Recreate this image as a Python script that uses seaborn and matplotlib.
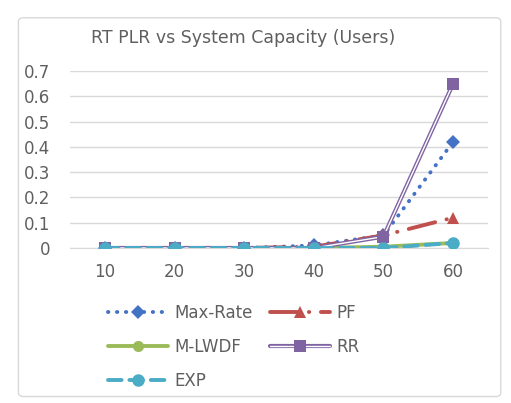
import numpy as np
import pandas as pd
import seaborn as sns
from matplotlib import pyplot as plt
from matplotlib.lines import Line2D
from matplotlib.patches import FancyBboxPatch
import matplotlib.patheffects as pe

users = [10, 20, 30, 40, 50, 60]
max_rate = [0, 0, 0, 0.01, 0.05, 0.42]
pf = [0, 0, 0, 0.005, 0.05, 0.12]
m_lwdf = [0, 0, 0, 0, 0.005, 0.02]
rr = [0, 0, 0, 0, 0.045, 0.65]
exp_ = [0, 0, 0, 0, 0, 0.02]

series = {"Max-Rate": max_rate, "PF": pf, "M-LWDF": m_lwdf, "RR": rr, "EXP": exp_}
df = pd.DataFrame({"pos": range(len(users)), **series})

colors = {"Max-Rate": "#4472C4", "PF": "#C0504D", "M-LWDF": "#9BBB59",
          "RR": "#8064A2", "EXP": "#4BACC6"}
styles = {"Max-Rate": dict(ls=(0, (0.1, 2.2)), marker="D", ms=7),
          "PF": dict(ls=(0, (7, 3, 0.1, 3)), marker="^", ms=9),
          "M-LWDF": dict(ls="-", marker="o", ms=8),
          "RR": dict(ls="-", marker="s", ms=9),
          "EXP": dict(ls=(0, (3.5, 2)), marker="o", ms=9)}

sns.set_style("white")
plt.rcParams["font.family"] = ["DejaVu Sans"]
txt = "#5f5f5f"

fig = plt.figure(figsize=(5.11, 4.03), dpi=100)
fig.patches.append(FancyBboxPatch((0.036, 0.016), 0.944, 0.94, boxstyle="round,pad=0,rounding_size=0.01",
                                  transform=fig.transFigure, fc="white", ec="#d9d9d9", lw=1, zorder=-5))
ax = fig.add_axes([70 / 511, 1 - 248 / 403, (488 - 70) / 511, (248 - 71) / 403])
ax.patch.set_alpha(0)

rr_fx = [pe.Stroke(linewidth=3.0, foreground=colors["RR"]), pe.Stroke(linewidth=1.0, foreground="white")]
for i, name in enumerate(series):
    st = styles[name]
    if name == "RR":
        sns.lineplot(df, x="pos", y=name, ax=ax, color=colors[name], lw=3.0,
                     path_effects=rr_fx, zorder=3 + i * 0.1)
        sns.lineplot(df, x="pos", y=name, ax=ax, color=colors[name], lw=0,
                     marker=st["marker"], markersize=st["ms"], markeredgewidth=0, zorder=3 + i * 0.1)
    else:
        sns.lineplot(df, x="pos", y=name, ax=ax, color=colors[name], lw=2.8,
                     linestyle=st["ls"], marker=st["marker"], markersize=st["ms"],
                     markeredgewidth=0, dash_capstyle="round", zorder=3 + i * 0.1)

ax.set_xlim(-0.5, 5.5)
ax.set_ylim(0, 0.7)
ax.set_xticks(range(len(users)), [str(u) for u in users])
ax.set_yticks(np.arange(0, 0.71, 0.1), ["0"] + [f"{v:.1f}" for v in np.arange(0.1, 0.71, 0.1)])
ax.yaxis.grid(True, color="#d9d9d9", lw=1)
ax.tick_params(axis="both", length=0, labelsize=12, colors=txt, pad=11)
ax.tick_params(axis="y", pad=14)
ax.set(xlabel="", ylabel="")
for s in ["top", "right", "left"]:
    ax.spines[s].set_visible(False)
ax.spines["bottom"].set_color("#d9d9d9")
fig.text(243 / 511, 1 - 38 / 403, "RT PLR vs System Capacity (Users)", color=txt, fontsize=12.5,
         ha="center", va="center")

handles = {}
for name in series:
    st = styles[name]
    if name == "RR":
        h = (Line2D([], [], color=colors[name], lw=3.0, path_effects=rr_fx),
             Line2D([], [], color=colors[name], lw=0, marker=st["marker"], ms=st["ms"], mew=0))
    else:
        h = Line2D([], [], color=colors[name], lw=2.8, ls=st["ls"], marker=st["marker"],
                   ms=st["ms"], mew=0, dash_capstyle="round")
    handles[name] = h
order = ["Max-Rate", "M-LWDF", "EXP", "PF", "RR"]
fig.legend([handles[n] for n in order], order, loc="upper left", bbox_to_anchor=(93 / 511, 1 - 289 / 403),
           ncol=2, frameon=False, handlelength=3.6, labelcolor=txt, fontsize=12,
           handletextpad=0.4, columnspacing=1.0, labelspacing=0.95)

fig.savefig("out.png", dpi=100)
